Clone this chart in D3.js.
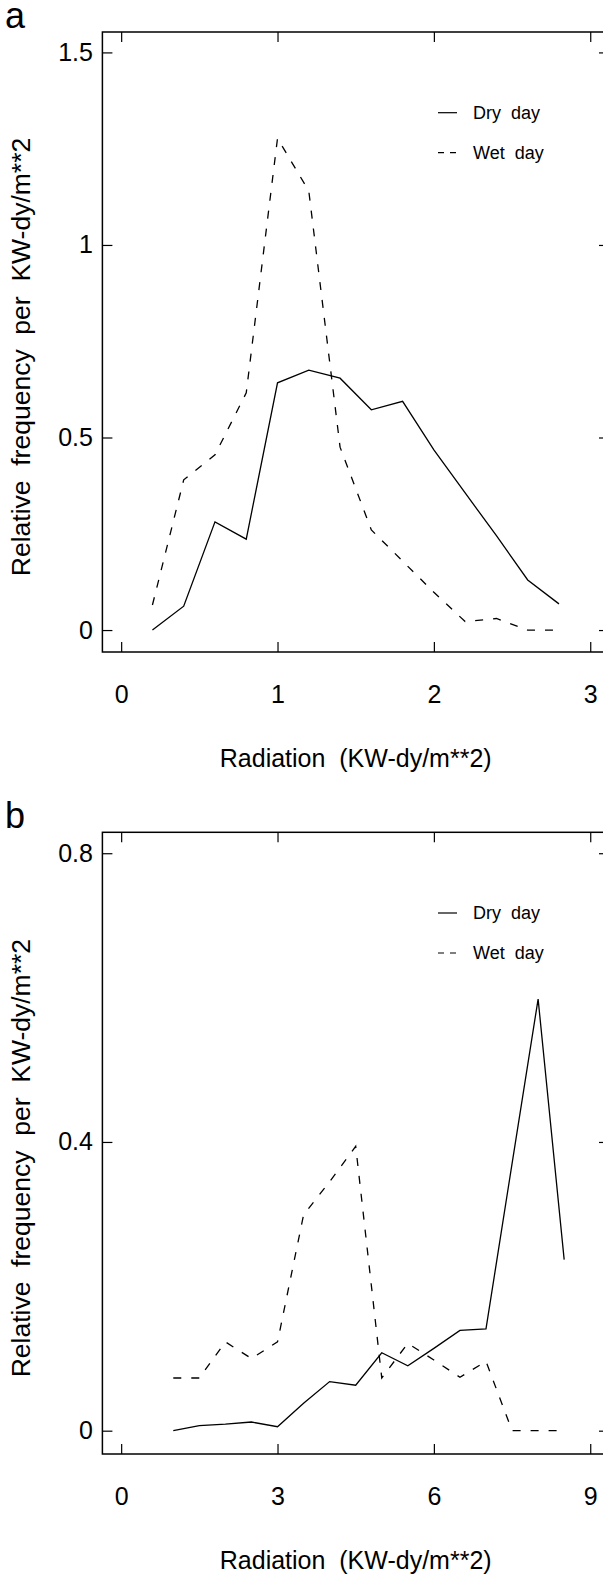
<!DOCTYPE html>
<html>
<head>
<meta charset="utf-8">
<script src="https://cdn.jsdelivr.net/npm/d3@7"></script>
<style>
    body { margin: 0; background: #fff; }
    svg { display: block; font-family: "Liberation Sans", Arial, sans-serif; }
    text { white-space: pre; }
</style>
</head>
<body>
<div class="container"></div>
<script>
// panel a
var radiationA = [0.2, 0.4, 0.6, 0.8, 1.0, 1.2, 1.4, 1.6, 1.8, 2.0, 2.2, 2.4, 2.6, 2.8];
var dryA = [0, 0.062, 0.281, 0.236, 0.642, 0.675, 0.654, 0.572, 0.594, 0.468, 0.356, 0.245, 0.13, 0.068];
var wetA = [0.065, 0.39, 0.455, 0.616, 1.277, 1.14, 0.475, 0.26, 0.179, 0.098, 0.022, 0.03, 0, 0];
var xTicksA = [0, 1, 2, 3];
var yTicksA = [0, 0.5, 1, 1.5];

// panel b
var radiationB = [1, 1.5, 2, 2.5, 3, 3.5, 4, 4.5, 5, 5.5, 6, 6.5, 7, 7.5, 8, 8.5];
var dryB = [0, 0.007, 0.009, 0.012, 0.0055, 0.038, 0.068, 0.063, 0.108, 0.09, 0.114, 0.139, 0.141, 0.37, 0.598, 0.237];
var wetB = [0.073, 0.073, 0.123, 0.1, 0.123, 0.299, 0.345, 0.394, 0.073, 0.121, 0.098, 0.074, 0.096, 0, 0, 0];
var xTicksB = [0, 3, 6, 9];
var yTicksB = [0, 0.4, 0.8];

var seriesNames = ["Dry  day", "Wet  day"];
var xTitle = "Radiation  (KW-dy/m**2)";
var yTitle = "Relative  frequency  per  KW-dy/m**2";

var chart = {
    config: {
        width: 603,
        height: 1575,
        left: 102.4,
        right: 609,
        tick: 10,
        dash: "8,10",
        panels: [
            { label: "a", top: 32, bottom: 652, x: radiationA, dry: dryA, wet: wetA,
              xDomain: [-0.12, 3.12], yDomain: [-0.057, 1.553], xTicks: xTicksA, yTicks: yTicksA },
            { label: "b", top: 832.3, bottom: 1454, x: radiationB, dry: dryB, wet: wetB,
              xDomain: [-0.36, 9.36], yDomain: [-0.0323, 0.829], xTicks: xTicksB, yTicks: yTicksB }
        ]
    },

    drawPanel: (svg, p) => {
        var c = chart.config;
        var x = d3.scaleLinear().domain(p.xDomain).range([c.left, c.right]);
        var y = d3.scaleLinear().domain(p.yDomain).range([p.bottom, p.top]);
        var g = svg.append("g");

        var styleAxis = (sel) => {
            sel.select(".domain").remove();
            sel.selectAll(".tick line").attr("stroke", "#000").attr("stroke-width", 1.2);
            sel.selectAll("text").attr("fill", "#000").attr("font-size", 25).attr("font-family", null);
        };

        g.append("g").attr("transform", `translate(0,${p.bottom})`)
            .call(d3.axisBottom(x).tickValues(p.xTicks).tickSize(-c.tick).tickPadding(33).tickFormat(d3.format("")))
            .call(styleAxis);
        g.append("g").attr("transform", `translate(0,${p.top})`)
            .call(d3.axisTop(x).tickValues(p.xTicks).tickSize(-c.tick).tickFormat(""))
            .call(styleAxis);
        g.append("g").attr("transform", `translate(${c.left},0)`)
            .call(d3.axisLeft(y).tickValues(p.yTicks).tickSize(-c.tick).tickPadding(9.5).tickFormat(d3.format("")))
            .call(styleAxis);
        g.append("g").attr("transform", `translate(${c.right},0)`)
            .call(d3.axisRight(y).tickValues(p.yTicks).tickSize(-c.tick).tickFormat(""))
            .call(styleAxis);

        g.append("rect")
            .attr("x", c.left).attr("y", p.top)
            .attr("width", c.right - c.left).attr("height", p.bottom - p.top)
            .attr("fill", "none").attr("stroke", "#000").attr("stroke-width", 1.5);

        var line = d3.line().x((d) => x(d[0])).y((d) => y(d[1]));
        [p.dry, p.wet].forEach((vals, i) => {
            g.append("path")
                .attr("d", line(p.x.map((r, j) => [r, vals[j]])))
                .attr("fill", "none").attr("stroke", "#000").attr("stroke-width", 1.3)
                .attr("stroke-dasharray", i ? c.dash : null);
        });

        // legend
        seriesNames.forEach((name, i) => {
            var ly = p.top + 80.7 + i * 40;
            g.append("line")
                .attr("x1", 438).attr("x2", 457).attr("y1", ly).attr("y2", ly)
                .attr("stroke", "#000").attr("stroke-width", 1.2)
                .attr("stroke-dasharray", i ? "6,6" : null);
            g.append("text").attr("x", 473).attr("y", ly + 6.2)
                .attr("font-size", 18).text(name);
        });

        g.append("text").attr("x", (c.left + c.right) / 2).attr("y", p.bottom + 115)
            .attr("text-anchor", "middle").attr("font-size", 25).text(xTitle);
        g.append("text")
            .attr("transform", `translate(30,${(p.top + p.bottom) / 2 + 15}) rotate(-90)`)
            .attr("text-anchor", "middle").attr("font-size", 26.5).text(yTitle);
        g.append("text").attr("x", 5).attr("y", p.top - 4)
            .attr("font-size", 36).text(p.label);
    }
};

var svg = d3.select(".container").append("svg")
    .attr("width", chart.config.width)
    .attr("height", chart.config.height);
svg.append("rect").attr("width", chart.config.width).attr("height", chart.config.height).attr("fill", "#fff");

chart.config.panels.forEach((p) => chart.drawPanel(svg, p));
</script>
</body>
</html>
